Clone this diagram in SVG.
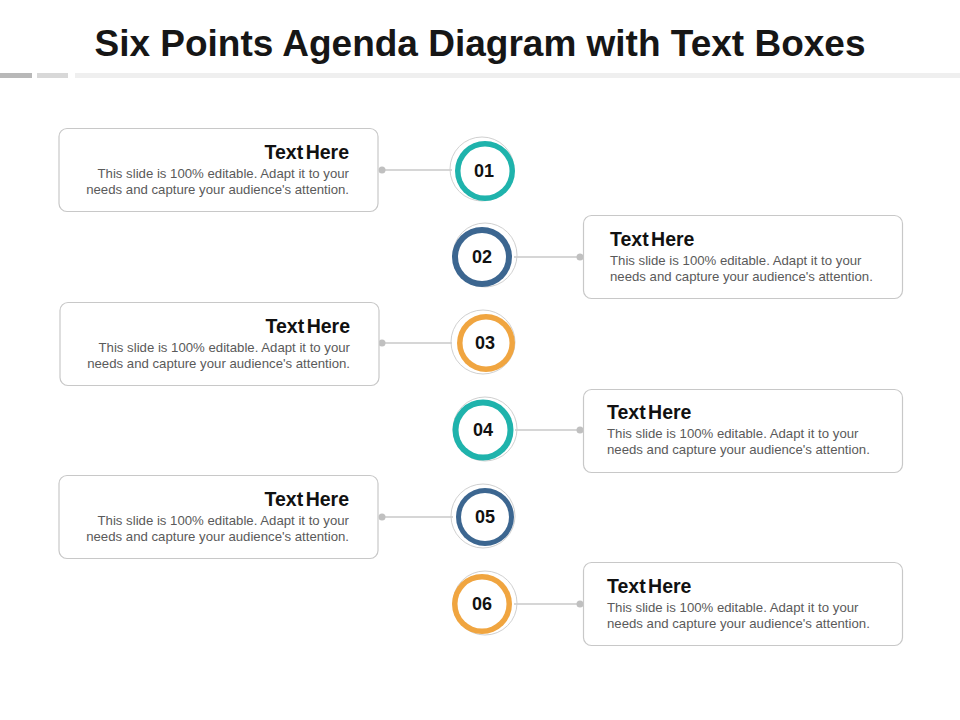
<svg xmlns="http://www.w3.org/2000/svg" width="960" height="720" viewBox="0 0 960 720">
<style>
.box{fill:#fff;stroke:#c8c8c8;stroke-width:1.2}
.h{font-family:"Liberation Sans",Arial,sans-serif;font-weight:bold;font-size:19.5px;fill:#111;word-spacing:-3px}
.b{font-family:"Liberation Sans",Arial,sans-serif;font-size:13.2px;fill:#5a5a5a}
.num{font-family:"Liberation Sans",Arial,sans-serif;font-weight:bold;font-size:18px;fill:#111;text-anchor:middle}
.ln{stroke:#c8c8c8;stroke-width:1.5}
.dot{fill:#c0c0c0}
.halo{fill:none;stroke:#d0d0d0;stroke-width:1}
.inner{fill:#fff}
</style>
<rect width="960" height="720" fill="#fff"/>
<text x="480" y="56" text-anchor="middle" font-family="Liberation Sans,Arial,sans-serif" font-weight="bold" font-size="37" fill="#161616">Six Points Agenda Diagram with Text Boxes</text>
<rect x="0" y="73" width="32" height="5" fill="#b8b8b8"/>
<rect x="37" y="73" width="31" height="5" fill="#d8d8d8"/>
<rect x="75" y="73" width="885" height="5" fill="#efefef"/>

<g id="connectors">
<line class="ln" x1="382" y1="170" x2="452" y2="170"/><circle class="dot" cx="382" cy="170" r="3.5"/>
<line class="ln" x1="514" y1="257" x2="580" y2="257"/><circle class="dot" cx="580" cy="257" r="3.5"/>
<line class="ln" x1="382" y1="343" x2="452" y2="343"/><circle class="dot" cx="382" cy="343" r="3.5"/>
<line class="ln" x1="515" y1="430" x2="580" y2="430"/><circle class="dot" cx="580" cy="430" r="3.5"/>
<line class="ln" x1="382" y1="517" x2="453" y2="517"/><circle class="dot" cx="382" cy="517" r="3.5"/>
<line class="ln" x1="514" y1="604" x2="580" y2="604"/><circle class="dot" cx="580" cy="604" r="3.5"/>
</g>

<g id="node1">
<rect class="box" x="59" y="128.5" width="319" height="83" rx="8"/>
<text class="h" x="349" y="159" text-anchor="end">Text Here</text>
<text class="b" x="349" y="178" text-anchor="end">This slide is 100% editable. Adapt it to your</text>
<text class="b" x="349" y="194" text-anchor="end">needs and capture your audience's attention.</text>
</g>
<g id="node2">
<rect class="box" x="583.5" y="215.5" width="319" height="83" rx="8"/>
<text class="h" x="610" y="246">Text Here</text>
<text class="b" x="610" y="265">This slide is 100% editable. Adapt it to your</text>
<text class="b" x="610" y="281">needs and capture your audience's attention.</text>
</g>
<g id="node3">
<rect class="box" x="60" y="302.5" width="319" height="83" rx="8"/>
<text class="h" x="350" y="333" text-anchor="end">Text Here</text>
<text class="b" x="350" y="352" text-anchor="end">This slide is 100% editable. Adapt it to your</text>
<text class="b" x="350" y="368" text-anchor="end">needs and capture your audience's attention.</text>
</g>
<g id="node4">
<rect class="box" x="583.5" y="389.5" width="319" height="83" rx="8"/>
<text class="h" x="607" y="419">Text Here</text>
<text class="b" x="607" y="438">This slide is 100% editable. Adapt it to your</text>
<text class="b" x="607" y="454">needs and capture your audience's attention.</text>
</g>
<g id="node5">
<rect class="box" x="59" y="475.5" width="319" height="83" rx="8"/>
<text class="h" x="349" y="506" text-anchor="end">Text Here</text>
<text class="b" x="349" y="525" text-anchor="end">This slide is 100% editable. Adapt it to your</text>
<text class="b" x="349" y="541" text-anchor="end">needs and capture your audience's attention.</text>
</g>
<g id="node6">
<rect class="box" x="583.5" y="562.5" width="319" height="83" rx="8"/>
<text class="h" x="607" y="593">Text Here</text>
<text class="b" x="607" y="612">This slide is 100% editable. Adapt it to your</text>
<text class="b" x="607" y="628">needs and capture your audience's attention.</text>
</g>

<g id="circle01">
<circle class="halo" cx="482" cy="169" r="32"/>
<circle cx="485" cy="171" r="30" fill="#1fb3ac"/>
<circle class="inner" cx="485" cy="171" r="24.5"/>
<text class="num" x="484" y="177">01</text>
</g>
<g id="circle02">
<circle class="halo" cx="485" cy="255" r="32"/>
<circle cx="482" cy="257" r="30" fill="#3c6690"/>
<circle class="inner" cx="482" cy="257" r="24"/>
<text class="num" x="482" y="263">02</text>
</g>
<g id="circle03">
<circle class="halo" cx="483" cy="342" r="32"/>
<circle cx="486" cy="343" r="29" fill="#f0a540"/>
<circle class="inner" cx="486" cy="343" r="23.5"/>
<text class="num" x="485" y="349">03</text>
</g>
<g id="circle04">
<circle class="halo" cx="485" cy="429" r="32"/>
<circle cx="483" cy="430" r="30.5" fill="#1fb3ac"/>
<circle class="inner" cx="483" cy="430" r="24.5"/>
<text class="num" x="483" y="436">04</text>
</g>
<g id="circle05">
<circle class="halo" cx="483" cy="516" r="32"/>
<circle cx="485" cy="517" r="29" fill="#3c6690"/>
<circle class="inner" cx="485" cy="517" r="24"/>
<text class="num" x="485" y="523">05</text>
</g>
<g id="circle06">
<circle class="halo" cx="485" cy="603" r="32"/>
<circle cx="482" cy="604" r="30" fill="#f0a540"/>
<circle class="inner" cx="482" cy="604" r="24.5"/>
<text class="num" x="482" y="610">06</text>
</g>
</svg>
